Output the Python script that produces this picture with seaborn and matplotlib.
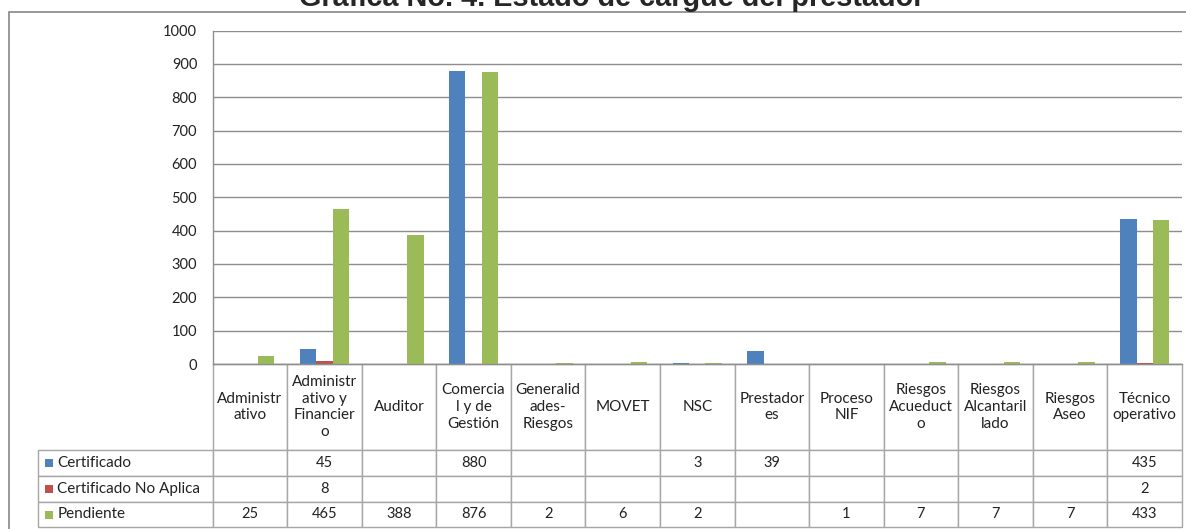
import numpy as np
import pandas as pd
import matplotlib.pyplot as plt
from matplotlib.patches import Rectangle
import seaborn as sns

# Datos de la gráfica
categorias = ["Administrativo", "Administrativo y Financiero", "Auditor",
              "Comercial y de Gestión", "Generalidades-Riesgos", "MOVET", "NSC",
              "Prestadores", "Proceso NIF", "Riesgos Acueducto",
              "Riesgos Alcantarillado", "Riesgos Aseo", "Técnico operativo"]
etiquetas = ["Administr\nativo", "Administr\nativo y\nFinancier\no", "Auditor",
             "Comercia\nl y de\nGestión", "Generalid\nades-\nRiesgos", "MOVET", "NSC",
             "Prestador\nes", "Proceso\nNIF", "Riesgos\nAcueduct\no",
             "Riesgos\nAlcantaril\nlado", "Riesgos\nAseo", "Técnico\noperativo"]
series = ["Certificado", "Certificado No Aplica", "Pendiente"]
certificado = [np.nan, 45, np.nan, 880, np.nan, np.nan, 3, 39, np.nan, np.nan, np.nan, np.nan, 435]
no_aplica = [np.nan, 8, np.nan, np.nan, np.nan, np.nan, np.nan, np.nan, np.nan, np.nan, np.nan, np.nan, 2]
pendiente = [25, 465, 388, 876, 2, 6, 2, np.nan, 1, 7, 7, 7, 433]
colores = ["#4F81BD", "#C0504D", "#9BBB59"]

valores = {"Certificado": certificado, "Certificado No Aplica": no_aplica, "Pendiente": pendiente}
df = pd.DataFrame(valores)
df["Categoria"] = categorias
df_long = df.melt(id_vars="Categoria", var_name="Serie", value_name="Valor").dropna()

sns.set_style("white")
plt.rcParams["font.family"] = ["Lato", "DejaVu Sans"]

W, H = 1186, 529
fig = plt.figure(figsize=(W / 100, H / 100), dpi=100)

# area de trazado en pixeles
left, right, top, bottom = 212.5, 1182, 30.5, 364
aw, ah = right - left, bottom - top
ax = fig.add_axes([left / W, 1 - bottom / H, aw / W, ah / H])

sns.barplot(data=df_long, x="Categoria", y="Valor", hue="Serie", order=categorias,
            hue_order=series, palette=colores, saturation=1, width=0.66,
            linewidth=0, legend=False, ax=ax)

ax.set_xlim(-0.5, len(categorias) - 0.5)
ax.set_ylim(0, 1000)
ax.set_yticks(range(0, 1001, 100))
ax.yaxis.grid(True, color="#8E8E8E", linewidth=1)
ax.set_axisbelow(True)
ax.set_xticks([])
ax.set_xlabel("")
ax.set_ylabel("")
ax.tick_params(axis="y", length=0, pad=11, labelsize=10.5, labelcolor="#222222")
for s in ["top", "right"]:
    ax.spines[s].set_visible(False)
for s in ["left", "bottom"]:
    ax.spines[s].set_color("#8E8E8E")
    ax.spines[s].set_linewidth(1)

# tabla de datos
def fmt(v):
    return "" if pd.isna(v) else f"{int(v)}"

cell_text = [[fmt(v) for v in valores[s]] for s in series]

tab_left = 38
label_w = (left - tab_left) / aw
col_w = 1 / len(categorias)
alturas = [86 / ah, 26 / ah, 26 / ah, 25 / ah]
tabla = ax.table(cellText=cell_text, rowLabels=series, colLabels=etiquetas,
                 colWidths=[col_w] * len(categorias),
                 cellLoc="center", rowLoc="left",
                 bbox=[0, -sum(alturas), 1, sum(alturas)])
tabla._autoColumns = []
tabla.auto_set_font_size(False)
tabla.set_fontsize(10.5)

for (r, c), cell in tabla.get_celld().items():
    cell.set_edgecolor("#A6A6A6")
    cell.set_linewidth(1)
    cell.set_height(alturas[r])
    txt = cell.get_text()
    txt.set_color("#222222")
    txt.set_linespacing(1.25)
    if r == 0:
        txt.set_fontsize(11)
    if c == -1:
        cell.set_width(label_w)
        cell.PAD = 19.5 / (left - tab_left)
        txt.set_fontsize(11)

# cuadros de leyenda
centros = [463, 489, 514.5]
for color, cy in zip(colores, centros):
    fig.patches.append(Rectangle((44.5 / W, 1 - (cy + 4) / H), 8 / W, 8 / H,
                                 transform=fig.transFigure, facecolor=color,
                                 edgecolor="none"))

# marco del grafico
fig.patches.append(Rectangle((9 / W, -0.1), 1.2, 1 - 12 / H + 0.1,
                             transform=fig.transFigure, fill=False,
                             edgecolor="#868686", linewidth=1.2))

fig.text(611.5 / W, 1 - 6.5 / H, "Gráfica No. 4. Estado de cargue del prestador",
         ha="center", va="baseline", fontsize=20.8, fontweight="bold",
         family="Liberation Sans")

fig.savefig("out.png", dpi=100)
plt.close(fig)
